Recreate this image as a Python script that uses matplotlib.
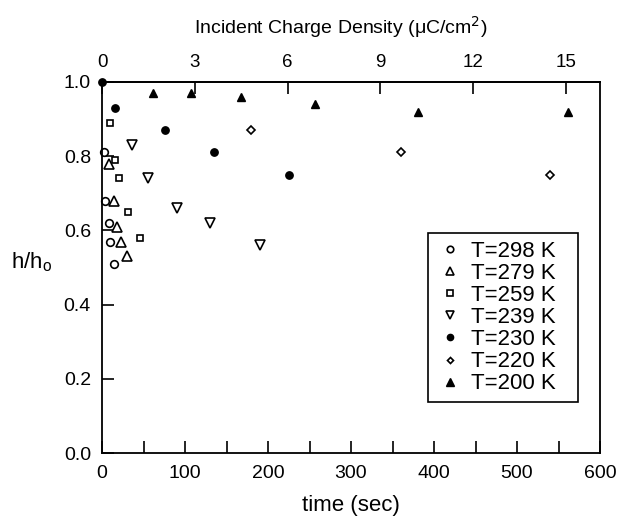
import matplotlib.pyplot as plt

plt.rcParams['font.family'] = ['Liberation Sans', 'DejaVu Sans']

# time (sec) and h/ho for each temperature
t298 = [3, 4, 8, 10, 15]
h298 = [0.81, 0.68, 0.62, 0.57, 0.51]
t279 = [8, 14, 18, 23, 30]
h279 = [0.78, 0.68, 0.61, 0.57, 0.53]
t259 = [10, 16, 20, 31, 46]
h259 = [0.89, 0.79, 0.74, 0.65, 0.58]
t239 = [36, 56, 90, 130, 190]
h239 = [0.83, 0.74, 0.66, 0.62, 0.56]
t230 = [0, 16, 76, 135, 225]
h230 = [1.0, 0.93, 0.87, 0.81, 0.75]
t220 = [180, 360, 540]
h220 = [0.87, 0.81, 0.75]
t200 = [62, 107, 167, 257, 381, 561]
h200 = [0.97, 0.97, 0.96, 0.94, 0.92, 0.92]

# incident charge density per second (uC/cm2 / s)
rate = 16.1 / 600

fig = plt.figure(figsize=(6.2, 5.29), dpi=100)
ax = fig.add_axes([102 / 620, 1 - 453 / 529, 498 / 620, 371 / 529])

ax.plot(t298, h298, 'o', ms=5.5, mfc='white', mec='black', mew=1.2, label='T=298 K', clip_on=False)
ax.plot(t279, h279, '^', ms=6.5, mfc='white', mec='black', mew=1.2, label='T=279 K', clip_on=False)
ax.plot(t259, h259, 's', ms=4.8, mfc='white', mec='black', mew=1.2, label='T=259 K', clip_on=False)
ax.plot(t239, h239, 'v', ms=6.7, mfc='white', mec='black', mew=1.2, label='T=239 K', clip_on=False)
ax.plot(t230, h230, 'o', ms=5.3, color='black', label='T=230 K', clip_on=False)
ax.plot(t220, h220, 'D', ms=3.6, mfc='white', mec='black', mew=1.2, label='T=220 K', clip_on=False)
ax.plot(t200, h200, '^', ms=6.2, color='black', label='T=200 K', clip_on=False)

ax.set_xlim(0, 600)
ax.set_ylim(0, 1.0)
ax.set_xticks([0, 100, 200, 300, 400, 500, 600])
ax.set_xticks([50, 150, 250, 350, 450, 550], minor=True)
ax.set_yticks([0.0, 0.2, 0.4, 0.6, 0.8, 1.0])
ax.set_yticklabels(['0.0', '0.2', '0.4', '0.6', '0.8', '1.0'])
ax.tick_params(axis='both', which='both', direction='in', length=8.3, width=1.2,
               top=False, right=False, labelsize=14)
ax.tick_params(axis='x', pad=9)
ax.tick_params(axis='y', pad=8)
for s in ax.spines.values():
    s.set_linewidth(1.3)

sec = ax.secondary_xaxis('top', functions=(lambda t: t * rate, lambda c: c / rate))
sec.set_xticks([0, 3, 6, 9, 12, 15])
sec.tick_params(direction='in', length=8.3, width=1.2, labelsize=13.5, pad=8)
sec.spines['top'].set_linewidth(1.3)

fig.text(0.55, 1 - 27 / 529, 'Incident Charge Density (\u03bcC/cm$^2$)', fontsize=14,
         ha='center', va='center')
ax.set_xlabel('time (sec)', fontsize=16, labelpad=9)
fig.text(32 / 620, 1 - 262 / 529, 'h/h$_\\mathregular{o}$', fontsize=16, ha='center', va='center')

leg = ax.legend(loc='upper left', bbox_to_anchor=(428 / 620, 1 - 401 / 529, 150 / 620, 168 / 529),
                bbox_transform=fig.transFigure, mode='expand', borderaxespad=0, fontsize=16,
                frameon=True, fancybox=False, edgecolor='black', framealpha=1,
                handlelength=1.3, handletextpad=0.3, borderpad=0.35,
                labelspacing=0.05, markerscale=0.85)
leg.get_frame().set_linewidth(1.2)

plt.savefig('out.png', dpi=100)
plt.close()
